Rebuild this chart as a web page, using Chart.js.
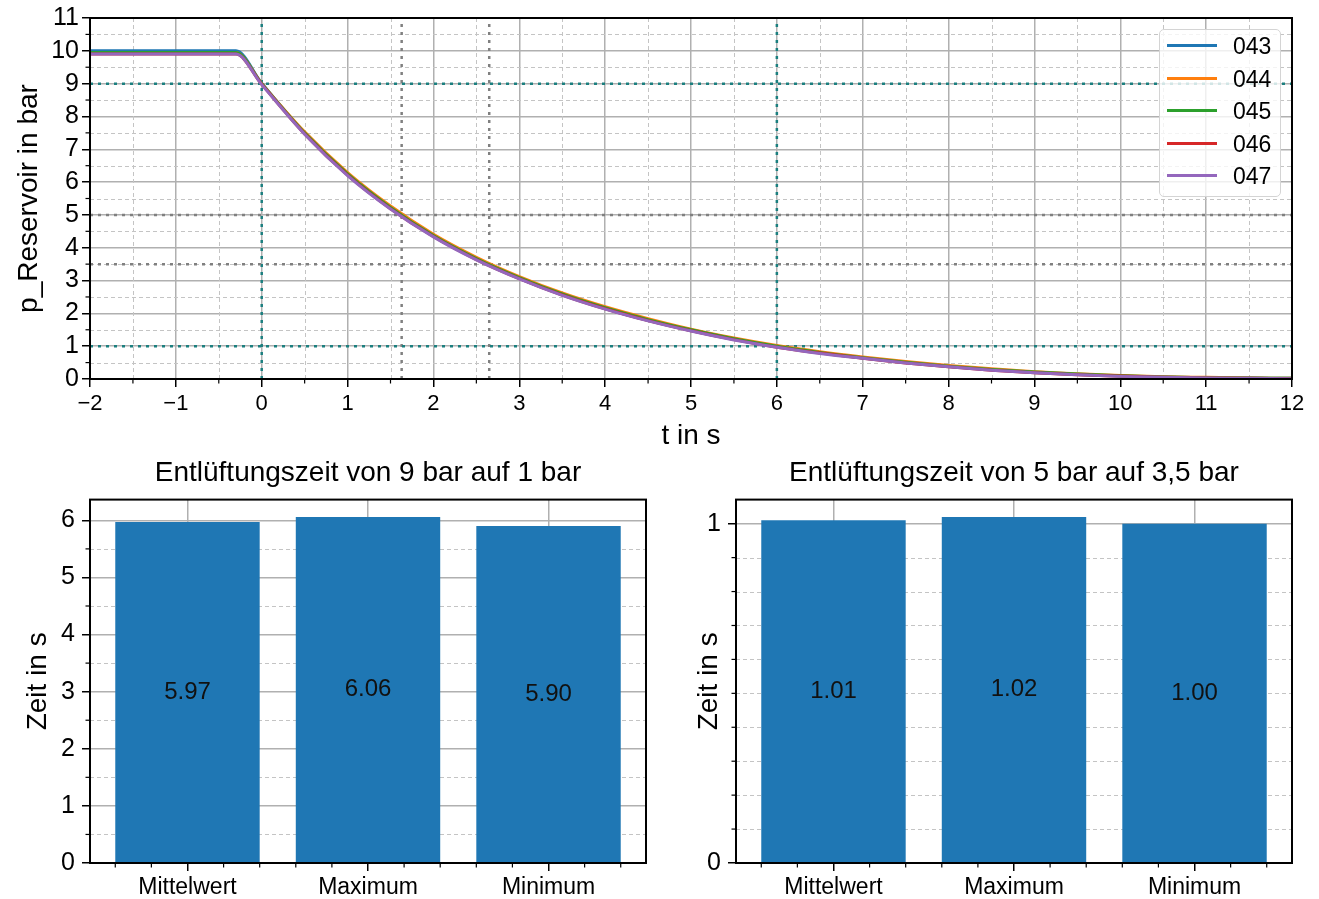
<!DOCTYPE html>
<html lang="de">
<head>
<meta charset="UTF-8">
<title>Entlüftung Reservoir</title>
<script src="https://cdn.jsdelivr.net/npm/chart.js"></script>
<style>
  body { margin: 0; background: #fff; width: 1319px; height: 899px; position: relative; overflow: hidden;
         font-family: "Liberation Sans", Arial, sans-serif; }
  canvas { position: absolute; }
  #cTop { left: 0; top: 0; }
  #cBar1 { left: 0; top: 440px; }
  #cBar2 { left: 660px; top: 440px; }
  .legend { position: absolute; left: 1159px; top: 29px; width: 122px; height: 168px; box-sizing: border-box;
            border: 1px solid #d4d4d4; border-radius: 5px; background: rgba(255,255,255,0.8); }
  .legend .row { position: absolute; left: 0; width: 120px; height: 24px; }
  .legend .line { position: absolute; left: 7px; top: 10px; width: 50px; height: 3px; }
  .legend .txt { position: absolute; left: 73px; top: 0; font-size: 23px; line-height: 24px; color: #000; }
</style>
</head>
<body>

<canvas id="cTop" width="1319" height="460"></canvas>
<canvas id="cBar1" width="660" height="459"></canvas>
<canvas id="cBar2" width="659" height="459"></canvas>
<div class="legend" id="legend"></div>

<script>
  // --- Daten: Druckverlauf ---
  const times = [-2, -0.3, 0, 0.5, 1, 1.5, 2, 2.5, 3, 3.5, 4, 4.5, 5, 5.5, 6, 6.5, 7, 7.5, 8, 8.5, 9, 9.5, 10, 10.5, 11, 11.5, 12];
  const p043 = [10.0, 10.0, 9.01, 7.49, 6.23, 5.21, 4.35, 3.65, 3.07, 2.57, 2.15, 1.79, 1.48, 1.21, 0.98, 0.80, 0.64, 0.50, 0.38, 0.28, 0.20, 0.14, 0.09, 0.06, 0.04, 0.03, 0.02];
  const p044 = [9.95, 9.95, 9.00, 7.53, 6.29, 5.27, 4.41, 3.71, 3.12, 2.62, 2.20, 1.84, 1.52, 1.25, 1.02, 0.83, 0.67, 0.53, 0.41, 0.31, 0.22, 0.16, 0.11, 0.07, 0.05, 0.03, 0.02];
  const p045 = [9.95, 9.95, 9.00, 7.50, 6.25, 5.23, 4.37, 3.67, 3.09, 2.59, 2.17, 1.81, 1.50, 1.23, 1.00, 0.81, 0.65, 0.51, 0.39, 0.29, 0.21, 0.15, 0.10, 0.06, 0.04, 0.03, 0.02];
  const p046 = [9.90, 9.90, 8.98, 7.47, 6.21, 5.19, 4.34, 3.64, 3.06, 2.56, 2.14, 1.78, 1.47, 1.20, 0.97, 0.79, 0.63, 0.49, 0.37, 0.27, 0.19, 0.13, 0.09, 0.05, 0.03, 0.02, 0.01];
  const p047 = [9.90, 9.90, 8.97, 7.46, 6.20, 5.18, 4.33, 3.63, 3.05, 2.55, 2.13, 1.77, 1.46, 1.19, 0.97, 0.78, 0.63, 0.49, 0.37, 0.27, 0.19, 0.13, 0.08, 0.05, 0.03, 0.02, 0.01];
  const seriesNames = ['043', '044', '045', '046', '047'];
  const seriesValues = [p043, p044, p045, p046, p047];
  const seriesColors = ['#1f77b4', '#ff7f0e', '#2ca02c', '#d62728', '#9467bd'];

  // Hilfslinien
  const hRefTeal = [9, 1];
  const hRefGray = [5, 3.5];
  const vRefTeal = [0, 6];
  const vRefGray = [1.63, 2.65];

  // Achsen oben
  const tMin = -2, tMax = 12, pMin = 0, pMax = 11;
  const xTicksTop = [-2, -1, 0, 1, 2, 3, 4, 5, 6, 7, 8, 9, 10, 11, 12];
  const yTicksTop = [0, 1, 2, 3, 4, 5, 6, 7, 8, 9, 10, 11];

  // --- Daten: Balken ---
  const barLabels = ['Mittelwert', 'Maximum', 'Minimum'];
  const zeit9auf1 = [5.97, 6.06, 5.90];
  const zeit5auf35 = [1.01, 1.02, 1.00];
  const barYTicks1 = [0, 1, 2, 3, 4, 5, 6];
  const barYTicks2 = [0, 1];

  const FONT = '"Liberation Sans", Arial, sans-serif';
  const GRID = '#b0b0b0';
  const TEAL = '#1b7f7f';
  const GRAY = '#808080';
  Chart.defaults.font.family = FONT;
  Chart.defaults.color = '#000';
  Chart.defaults.animation = false;

  const range = (a, b, step) => { const r = []; for (let v = a; v <= b + 1e-9; v += step) r.push(+v.toFixed(3)); return r; };

  // minor grid (gestrichelt), minor ticks und Rahmen wie bei matplotlib
  const minorPlugin = {
    id: 'minor',
    beforeDatasetsDraw(chart, args, o) {
      const { ctx, chartArea: a, scales: { x, y } } = chart;
      ctx.save();
      ctx.strokeStyle = '#c4c4c4';
      ctx.lineWidth = 1;
      ctx.setLineDash([4, 3]);
      if (o.gridX) o.x.forEach(v => {
        const px = Math.round(x.getPixelForValue(v)) + 0.5;
        ctx.beginPath(); ctx.moveTo(px, a.top); ctx.lineTo(px, a.bottom); ctx.stroke();
      });
      if (o.gridY) o.y.forEach(v => {
        const py = Math.round(y.getPixelForValue(v)) + 0.5;
        ctx.beginPath(); ctx.moveTo(a.left, py); ctx.lineTo(a.right, py); ctx.stroke();
      });
      ctx.restore();
    },
    afterDraw(chart, args, o) {
      const { ctx, chartArea: a, scales: { x, y } } = chart;
      ctx.save();
      ctx.strokeStyle = '#000';
      ctx.lineWidth = 1.2;
      (o.x || []).forEach(v => {
        const px = x.getPixelForValue(v);
        ctx.beginPath(); ctx.moveTo(px, a.bottom); ctx.lineTo(px, a.bottom + 4.5); ctx.stroke();
      });
      (o.y || []).forEach(v => {
        const py = y.getPixelForValue(v);
        ctx.beginPath(); ctx.moveTo(a.left - 4.5, py); ctx.lineTo(a.left, py); ctx.stroke();
      });
      ctx.lineWidth = 2;
      ctx.strokeRect(a.left, a.top, a.right - a.left, a.bottom - a.top);
      ctx.restore();
    }
  };

  const barValues = {
    id: 'barValues',
    afterDatasetsDraw(chart) {
      const { ctx } = chart;
      const ds = chart.data.datasets[0];
      ctx.save();
      ctx.font = '24px ' + FONT;
      ctx.fillStyle = '#111';
      ctx.textAlign = 'center';
      ctx.textBaseline = 'middle';
      chart.getDatasetMeta(0).data.forEach((bar, i) => {
        ctx.fillText(ds.data[i].y.toFixed(2), bar.x, (bar.y + bar.base) / 2);
      });
      ctx.restore();
    }
  };

  function axis(o) {
    return {
      type: 'linear', min: o.min, max: o.max, position: o.position, offset: false,
      afterBuildTicks: s => { s.ticks = o.ticks.map(v => ({ value: v })); },
      afterFit: s => { if (o.width) s.width = o.width; if (o.height) s.height = o.height; },
      border: { display: false },
      grid: { offset: false, color: GRID, lineWidth: 1.5, tickColor: '#000', tickLength: 8, tickWidth: 1.5 },
      ticks: { font: { size: o.fontSize }, color: '#000', padding: o.pad, autoSkip: false, maxRotation: 0,
               callback: o.format || (v => String(v)) },
      title: { display: !!o.title, text: o.title, font: { size: 28 }, color: '#000', padding: o.titlePad }
    };
  }

  // --- Diagramm 1: Druck über Zeit ---
  const lineSets = seriesNames.map((name, i) => ({
    label: name,
    data: times.map((t, k) => ({ x: t, y: seriesValues[i][k] })),
    borderColor: seriesColors[i],
    backgroundColor: seriesColors[i],
    borderWidth: 3,
    pointRadius: 0,
    cubicInterpolationMode: 'monotone',
    order: seriesNames.length - i
  }));
  const ref = (pts, color) => ({
    data: pts, borderColor: color, borderWidth: 2.5, borderDash: [3, 5], pointRadius: 0, order: 10
  });
  const refSets = [
    ...hRefTeal.map(p => ref([{ x: tMin, y: p }, { x: tMax, y: p }], TEAL)),
    ...hRefGray.map(p => ref([{ x: tMin, y: p }, { x: tMax, y: p }], GRAY)),
    ...vRefTeal.map(t => ref([{ x: t, y: pMin }, { x: t, y: pMax }], TEAL)),
    ...vRefGray.map(t => ref([{ x: t, y: pMin }, { x: t, y: pMax }], GRAY))
  ];

  new Chart(document.getElementById('cTop'), {
    type: 'line',
    data: { datasets: [...lineSets, ...refSets] },
    options: {
      responsive: false,
      layout: { padding: { left: 0, right: 27, top: 17, bottom: 0 } },
      plugins: {
        legend: { display: false },
        tooltip: { enabled: false },
        minor: { x: range(-1.5, 11.5, 1), y: range(0.5, 10.5, 1), gridX: true, gridY: true }
      },
      scales: {
        x: axis({ min: tMin, max: tMax, position: 'bottom', ticks: xTicksTop, fontSize: 22, pad: 4, height: 81,
                  format: v => String(v).replace('-', '\u2212'), title: 't in s', titlePad: { top: 0, bottom: 7 } }),
        y: axis({ min: pMin, max: pMax, position: 'left', ticks: yTicksTop, fontSize: 25, pad: 3, width: 90,
                  title: 'p_Reservoir in bar', titlePad: { top: 12, bottom: 0 } })
      }
    },
    plugins: [minorPlugin]
  });

  // Legende
  const legendBox = document.getElementById('legend');
  seriesNames.forEach((name, i) => {
    const row = document.createElement('div');
    row.className = 'row';
    row.style.top = (4 + i * 32.6) + 'px';
    row.innerHTML = '<span class="line" style="background:' + seriesColors[i] + '"></span><span class="txt">' + name + '</span>';
    legendBox.appendChild(row);
  });

  // --- Diagramme 2 und 3: Entlüftungszeiten ---
  const barXMinor = [-0.4, -0.2, 0.2, 0.4, 0.6, 0.8, 1.2, 1.4, 1.6, 1.8, 2.2, 2.4];

  function barChart(id, values, yMax, yTicks, yMinor, title, yWidth, yTitlePad, padRight) {
    new Chart(document.getElementById(id), {
      type: 'bar',
      data: {
        datasets: [{
          data: values.map((v, i) => ({ x: i, y: v })),
          backgroundColor: '#1f77b4',
          barPercentage: 1,
          categoryPercentage: 0.8
        }]
      },
      options: {
        responsive: false,
        layout: { padding: { left: 0, right: padRight, top: 0, bottom: 0 } },
        plugins: {
          legend: { display: false },
          tooltip: { enabled: false },
          title: { display: true, text: title, fullSize: false, color: '#000',
                   font: { size: 28, weight: 'normal' }, padding: { top: 16, bottom: 10 } },
          minor: { x: barXMinor, y: yMinor, gridX: false, gridY: true }
        },
        scales: {
          x: axis({ min: -0.54, max: 2.54, position: 'bottom', ticks: [0, 1, 2], fontSize: 23, pad: 3, height: 36,
                    format: v => barLabels[v] }),
          y: axis({ min: 0, max: yMax, position: 'left', ticks: yTicks, fontSize: 25, pad: 7, width: yWidth,
                    title: 'Zeit in s', titlePad: { top: yTitlePad, bottom: 0 } })
        }
      },
      plugins: [minorPlugin, barValues]
    });
  }

  barChart('cBar1', zeit9auf1, 6.363, barYTicks1, range(0.5, 5.5, 1),
           'Entlüftungszeit von 9 bar auf 1 bar', 90, 21, 14);
  barChart('cBar2', zeit5auf35, 1.071, barYTicks2, range(0.1, 0.9, 0.1),
           'Entlüftungszeit von 5 bar auf 3,5 bar', 76, 32, 27);
</script>
</body>
</html>
